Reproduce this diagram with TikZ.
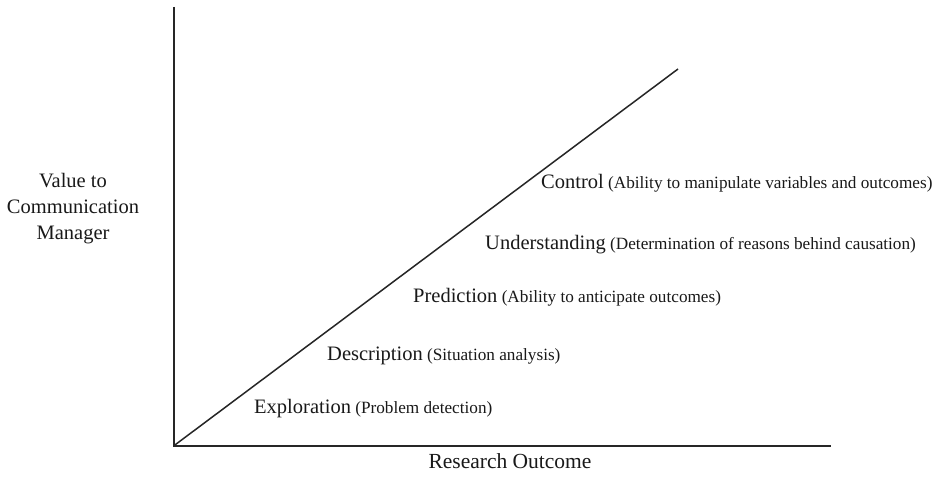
\documentclass[tikz,border=0pt]{standalone}
\usepackage{fontspec}
\setmainfont{Liberation Serif}
\newcommand{\mainword}{\fontsize{20.5}{25}\selectfont}
\newcommand{\sidenote}{\fontsize{17.2}{21}\selectfont}
\newcommand{\xtitlefont}{\fontsize{21.5}{26}\selectfont}
\begin{document}
\begin{tikzpicture}[x=1pt,y=-1pt,
  axis/.style={line width=2pt, black!85},
  trend/.style={line width=1.5pt, black!85},
  level/.style={anchor=base west, inner sep=0pt, text=black!90},
  axislabel/.style={anchor=base, inner sep=0pt, text=black!90, font=\mainword}]
\useasboundingbox[fill=white] (0,0) rectangle (941,481);

% axes and the rising line
\coordinate (origin) at (173.5,446);
\coordinate (ytop) at (173.5,7);
\coordinate (xend) at (831,446);
\coordinate (peak) at (678,69);
\draw[axis] (ytop) -- (origin) -- (xend);
\draw[trend] (origin) -- (peak);

% axis titles
\node[axislabel] (ytitleA) at (73,187) {Value to};
\node[axislabel] (ytitleB) at (73,213) {Communication};
\node[axislabel] (ytitleC) at (73,239) {Manager};
\node[axislabel, font=\xtitlefont] (xtitle) at (510,468) {Research Outcome};

% levels along the line
\node[level] (explore) at (254,413)
  {\mainword Exploration\sidenote{} (Problem detection)};
\node[level] (describe) at (327,360)
  {\mainword Description\sidenote{} (Situation analysis)};
\node[level] (predict) at (413,302)
  {\mainword Prediction\sidenote{} (Ability to anticipate outcomes)};
\node[level] (understand) at (485,249)
  {\mainword Understanding\sidenote{} (Determination of reasons behind causation)};
\node[level] (control) at (541,188)
  {\mainword Control\sidenote{} (Ability to manipulate variables and outcomes)};
\end{tikzpicture}
\end{document}
